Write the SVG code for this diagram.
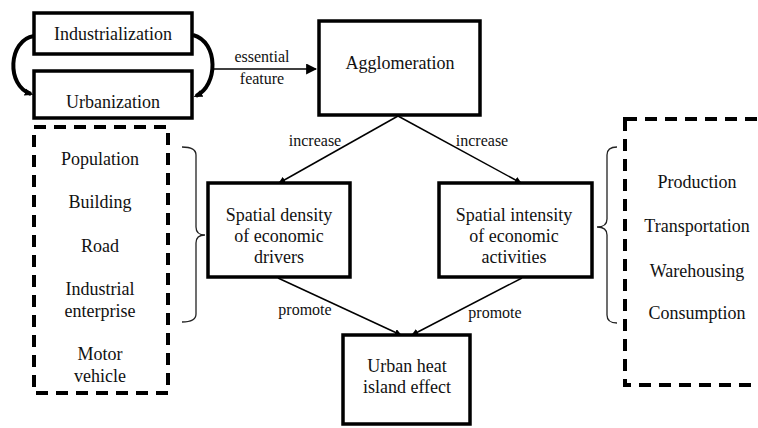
<svg xmlns="http://www.w3.org/2000/svg" width="758" height="428" viewBox="0 0 758 428">
<defs>
<style>
.box{fill:#fff;stroke:#000;stroke-width:3.5}
.dash{fill:none;stroke:#000;stroke-width:4;stroke-dasharray:12 8}
text{font-family:'Liberation Serif','Times New Roman',Times,serif;fill:#111;text-anchor:middle}
.t{font-size:18px}
.s{font-size:16px}
.ln{fill:none;stroke:#000;stroke-width:1.5}
.arc{fill:none;stroke:#000;stroke-width:4}
.br{fill:none;stroke:#222;stroke-width:1.3}
</style>
<marker id="ah" viewBox="0 0 10 10" refX="9" refY="5" markerWidth="7" markerHeight="7" orient="auto" markerUnits="userSpaceOnUse"><path d="M0,0 L10,5 L0,10 z" fill="#000"/></marker>
<marker id="ah2" viewBox="0 0 10 10" refX="9" refY="5" markerWidth="11" markerHeight="11" orient="auto" markerUnits="userSpaceOnUse"><path d="M0,0 L10,5 L0,10 z" fill="#000"/></marker>
<marker id="ah3" viewBox="0 0 10 10" refX="7" refY="5" markerWidth="9" markerHeight="9" orient="auto" markerUnits="userSpaceOnUse"><path d="M0,1 L10,5 L0,9 z" fill="#000"/></marker>
</defs>
<rect width="758" height="428" fill="#fff"/>

<g id="connectors">
<path class="arc" d="M34,36 C8,40 6,86 31,94" marker-end="url(#ah3)"/>
<path class="arc" d="M193,35 C219,42 218,86 196,96" marker-end="url(#ah3)"/>
<line class="ln" x1="213" y1="69" x2="316" y2="69" marker-end="url(#ah2)"/>
<text class="s" x="262" y="62">essential</text>
<text class="s" x="262" y="84">feature</text>
<line class="ln" x1="398" y1="116" x2="279" y2="183" marker-end="url(#ah)"/>
<line class="ln" x1="398" y1="116" x2="521" y2="183" marker-end="url(#ah)"/>
<text class="s" x="315" y="146">increase</text>
<text class="s" x="482" y="146">increase</text>
<line class="ln" x1="278" y1="278" x2="401" y2="335" marker-end="url(#ah)"/>
<line class="ln" x1="522" y1="278" x2="412" y2="335" marker-end="url(#ah)"/>
<text class="s" x="305" y="315">promote</text>
<text class="s" x="495" y="318">promote</text>
<path class="br" d="M182,147 Q196,147 196,155 L196,227 Q196,235 205,235 Q196,235 196,243 L196,314 Q196,322 182,322"/>
<path class="br" d="M617,147 Q607,147 607,155 L607,219 Q607,227 597,227 Q607,227 607,235 L607,315 Q607,323 617,323"/>
</g>

<g id="industrialization">
<rect class="box" x="34" y="13" width="158" height="41"/>
<text class="t" x="113" y="40">Industrialization</text>
</g>
<g id="urbanization">
<rect class="box" x="34" y="71" width="158" height="47"/>
<text class="t" x="113" y="108">Urbanization</text>
</g>
<g id="agglomeration">
<rect class="box" x="319" y="21" width="161" height="94"/>
<text class="t" x="400" y="69">Agglomeration</text>
</g>
<g id="drivers-list">
<rect class="dash" x="34" y="127" width="134" height="266"/>
<text class="t" x="100" y="165">Population</text>
<text class="t" x="100" y="208">Building</text>
<text class="t" x="100" y="252">Road</text>
<text class="t" x="100" y="295">Industrial</text>
<text class="t" x="100" y="317">enterprise</text>
<text class="t" x="100" y="360">Motor</text>
<text class="t" x="100" y="382">vehicle</text>
</g>
<g id="spatial-density">
<rect class="box" x="208" y="183" width="142" height="94"/>
<text class="t" x="279" y="221">Spatial density</text>
<text class="t" x="279" y="242">of economic</text>
<text class="t" x="279" y="263">drivers</text>
</g>
<g id="spatial-intensity">
<rect class="box" x="439" y="183" width="153" height="94"/>
<text class="t" x="514" y="221">Spatial intensity</text>
<text class="t" x="514" y="242">of economic</text>
<text class="t" x="514" y="263">activities</text>
</g>
<g id="activities-list">
<rect class="dash" x="625" y="119" width="150" height="266"/>
<text class="t" x="697" y="188">Production</text>
<text class="t" x="697" y="232">Transportation</text>
<text class="t" x="697" y="277">Warehousing</text>
<text class="t" x="697" y="319">Consumption</text>
</g>
<g id="uhi">
<rect class="box" x="343" y="335" width="127" height="89"/>
<text class="t" x="407" y="372">Urban heat</text>
<text class="t" x="407" y="393">island effect</text>
</g>
</svg>
